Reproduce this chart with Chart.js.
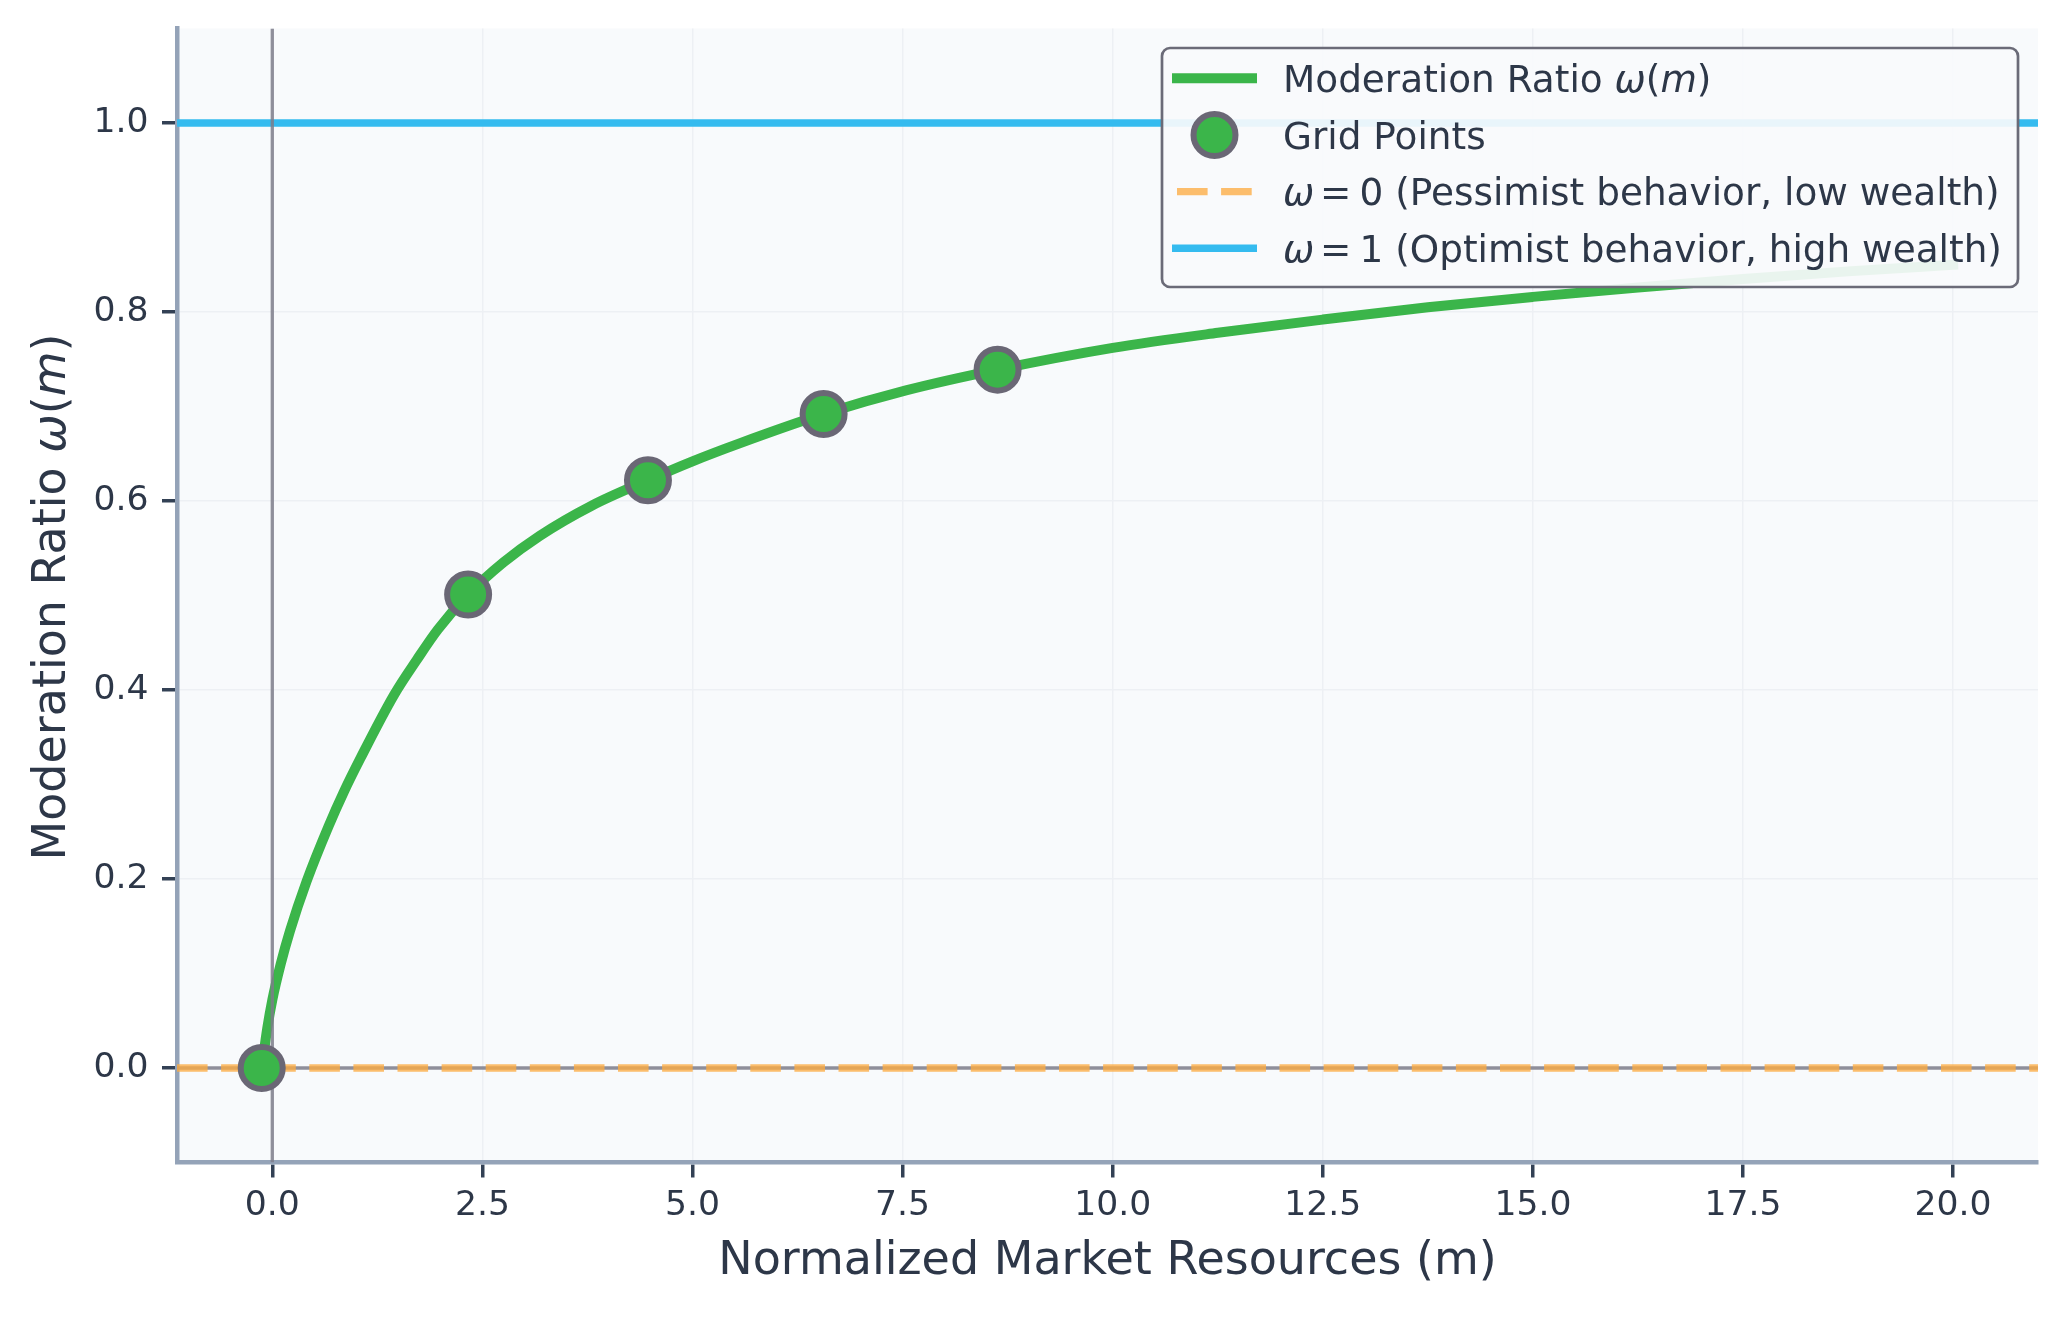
<!DOCTYPE html>
<html>
<head>
<meta charset="utf-8">
<script src="https://cdn.jsdelivr.net/npm/chart.js@4.4.1/dist/chart.umd.min.js"></script>
<style>
html,body{margin:0;padding:0;background:#ffffff;overflow:hidden}
canvas{display:block}
</style>
</head>
<body>
<canvas id="c" width="2068" height="1320"></canvas>
<script>
// ---- data ----
const curveM = [-0.126, -0.06, 0.0, 0.10, 0.21, 0.41, 0.67, 0.85, 1.05, 1.45, 1.72, 1.97, 2.33, 2.75, 3.18, 3.8, 4.47, 5.0, 5.56, 6.56, 7.54, 8.63, 10.0, 11.25, 12.5, 13.75, 15.0, 16.25, 17.5, 18.75, 20.0];
const curveW = [0.000, 0.042, 0.072, 0.110, 0.145, 0.198, 0.256, 0.292, 0.328, 0.395, 0.432, 0.464, 0.501, 0.535, 0.563, 0.595, 0.622, 0.642, 0.661, 0.692, 0.717, 0.739, 0.762, 0.778, 0.792, 0.805, 0.816, 0.826, 0.835, 0.843, 0.850];
const gridM = [-0.126, 2.33, 4.47, 6.56, 8.63];
const gridW = [0.000, 0.501, 0.622, 0.692, 0.739];
const pessimistLevel = 0;
const optimistLevel = 1;
const xTicks = [0, 2.5, 5, 7.5, 10, 12.5, 15, 17.5, 20];
const yTicks = [0, 0.2, 0.4, 0.6, 0.8, 1.0];
const xLimits = [-1.134, 21.01];
const yLimits = [-0.1, 1.1];
const xTitle = 'Normalized Market Resources (m)';
const yTitlePieces = [['Moderation Ratio ', false], ['ω', true], ['(', false], ['m', true], [')', false]];
// legend label pieces: [text, italic, xOffsetEm (null = follow previous)]
const legendPieces = [
  [['Moderation Ratio ', false, null], ['ω', true, null], ['(', false, null], ['m', true, null], [')', false, null]],
  [['Grid Points', false, null]],
  [['ω', true, 0], ['=', false, 0.99], ['0 (Pessimist behavior, low wealth)', false, 2.045]],
  [['ω', true, 0], ['=', false, 0.99], ['1 (Optimist behavior, high wealth)', false, 2.045]]
];

const FONT = '"DejaVu Sans", "Liberation Sans", sans-serif';
const TEXT = '#2d3748';
const GREEN = '#3bb54a';
const BLUE = '#35bbef';
const ORANGE = 'rgba(252,172,66,0.78)';
const GRAYLINE = 'rgba(125,125,138,0.85)';
const EDGE = '#6a6775';

function fontStr(size, italic) {
  return (italic ? 'italic ' : '') + size + 'px ' + FONT;
}

function drawPieces(ctx, pieces, x, y, size, center) {
  const widths = pieces.map(p => { ctx.font = fontStr(size, p[1]); return ctx.measureText(p[0]).width; });
  let cx = x;
  if (center) {
    const tot = widths.reduce((a, b) => a + b, 0);
    cx = x - tot / 2;
  }
  const x0 = cx;
  pieces.forEach((p, i) => {
    if (p[2] !== null && p[2] !== undefined) cx = x0 + p[2] * size;
    ctx.font = fontStr(size, p[1]);
    ctx.fillText(p[0], cx, y);
    cx += widths[i];
  });
}

const bgPlugin = {
  id: 'plotBg',
  beforeDraw(chart) {
    const {ctx, chartArea: a} = chart;
    ctx.save();
    ctx.fillStyle = '#ffffff';
    ctx.fillRect(0, 0, chart.width, chart.height);
    ctx.fillStyle = '#f8fafc';
    ctx.fillRect(a.left, a.top, a.right - a.left, a.bottom - a.top);
    ctx.restore();
  }
};

const yTitlePlugin = {
  id: 'yTitle',
  afterDraw(chart) {
    const {ctx, chartArea: a} = chart;
    ctx.save();
    ctx.translate(65, (a.top + a.bottom) / 2 + 1.5);
    ctx.rotate(-Math.PI / 2);
    ctx.fillStyle = TEXT;
    ctx.textBaseline = 'alphabetic';
    ctx.textAlign = 'left';
    drawPieces(ctx, yTitlePieces.map(p => [p[0], p[1], null]), 0, 0, 46, true);
    ctx.restore();
  }
};

const legendPlugin = {
  id: 'customLegend',
  afterDraw(chart) {
    const {ctx, chartArea: a} = chart;
    const ds = chart.data.datasets;
    const bx = a.right - 876, by = a.top + 19.5, bw = 856, bh = 239;
    ctx.save();
    ctx.beginPath();
    ctx.roundRect(bx, by, bw, bh, 8);
    ctx.fillStyle = 'rgba(248,250,252,0.92)';
    ctx.fill();
    ctx.lineWidth = 2.7;
    ctx.strokeStyle = '#6b6b78';
    ctx.stroke();

    const rows = [by + 30.3, by + 87, by + 143.7, by + 200.3];
    const hx0 = bx + 10, hx1 = bx + 95, hcx = bx + 52.5;
    ctx.setLineDash([]);
    ctx.lineCap = 'butt';
    ctx.strokeStyle = ds[0].borderColor;
    ctx.lineWidth = ds[0].borderWidth;
    ctx.beginPath(); ctx.moveTo(hx0, rows[0]); ctx.lineTo(hx1, rows[0]); ctx.stroke();
    ctx.beginPath();
    ctx.arc(hcx, rows[1], ds[1].pointRadius, 0, Math.PI * 2);
    ctx.fillStyle = ds[1].pointBackgroundColor;
    ctx.fill();
    ctx.lineWidth = ds[1].pointBorderWidth;
    ctx.strokeStyle = ds[1].pointBorderColor;
    ctx.stroke();
    ctx.strokeStyle = ds[2].borderColor;
    ctx.lineWidth = ds[2].borderWidth;
    ctx.setLineDash(ds[2].borderDash);
    ctx.beginPath(); ctx.moveTo(hx0 + 5, rows[2]); ctx.lineTo(hx1, rows[2]); ctx.stroke();
    ctx.setLineDash([]);
    ctx.strokeStyle = ds[3].borderColor;
    ctx.lineWidth = ds[3].borderWidth;
    ctx.beginPath(); ctx.moveTo(hx0, rows[3]); ctx.lineTo(hx1, rows[3]); ctx.stroke();

    ctx.fillStyle = TEXT;
    ctx.textBaseline = 'alphabetic';
    ctx.textAlign = 'left';
    const fs = 37.4;
    legendPieces.forEach((pieces, i) => {
      drawPieces(ctx, pieces, bx + 121, rows[i] + 0.3645 * fs, fs, false);
    });
    ctx.restore();
  }
};

const pts = (xs, ys) => xs.map((x, i) => ({x: x, y: ys[i]}));

new Chart(document.getElementById('c'), {
  type: 'line',
  data: {
    datasets: [
      {
        label: 'Moderation Ratio ω(m)',
        data: pts(curveM, curveW),
        borderColor: GREEN,
        borderWidth: 10,
        pointRadius: 0,
        cubicInterpolationMode: 'monotone',
        borderCapStyle: 'square',
        fill: false,
        order: 4
      },
      {
        label: 'Grid Points',
        data: pts(gridM, gridW),
        showLine: false,
        pointRadius: 21,
        pointHoverRadius: 21,
        pointBackgroundColor: GREEN,
        pointBorderColor: EDGE,
        pointBorderWidth: 6,
        order: 1
      },
      {
        label: 'ω = 0 (Pessimist behavior, low wealth)',
        data: pts(xLimits, [pessimistLevel, pessimistLevel]),
        borderColor: ORANGE,
        borderWidth: 7.3,
        borderDash: [30.6, 13.5],
        borderCapStyle: 'butt',
        pointRadius: 0,
        order: 3
      },
      {
        label: 'ω = 1 (Optimist behavior, high wealth)',
        data: pts(xLimits, [optimistLevel, optimistLevel]),
        borderColor: BLUE,
        borderWidth: 7.5,
        borderCapStyle: 'butt',
        pointRadius: 0,
        order: 6
      },
      {
        label: 'zero line',
        data: pts(xLimits, [0, 0]),
        borderColor: GRAYLINE,
        borderWidth: 3.3,
        pointRadius: 0,
        order: 5
      },
      {
        label: 'm = 0 line',
        data: pts([0, 0], yLimits),
        borderColor: GRAYLINE,
        borderWidth: 3.3,
        pointRadius: 0,
        order: 2
      }
    ]
  },
  options: {
    responsive: false,
    devicePixelRatio: 1,
    animation: false,
    layout: {padding: {left: 0, top: 28.5, right: 30, bottom: 0}},
    plugins: {
      legend: {display: false},
      tooltip: {enabled: false}
    },
    events: [],
    scales: {
      x: {
        type: 'linear',
        min: xLimits[0],
        max: xLimits[1],
        afterBuildTicks: s => { s.ticks = xTicks.map(v => ({value: v})); },
        afterFit: s => { s.height = 157.5; s.paddingLeft = 0; s.paddingRight = 0; s.paddingTop = 0; s.paddingBottom = 0; },
        ticks: {
          autoSkip: false,
          maxRotation: 0,
          padding: 7.7,
          color: TEXT,
          font: {family: FONT, size: 34.6},
          callback: v => Number(v).toFixed(1)
        },
        grid: {color: '#edf0f4', lineWidth: 1.5, tickLength: 15, tickWidth: 3.5, tickColor: '#334155'},
        border: {display: true, color: '#94a3b8', width: 4.5},
        title: {display: true, text: xTitle, color: TEXT, font: {family: FONT, size: 46}, padding: {top: 0, bottom: 30}}
      },
      y: {
        type: 'linear',
        min: yLimits[0],
        max: yLimits[1],
        afterBuildTicks: s => { s.ticks = yTicks.map(v => ({value: v})); },
        afterFit: s => { s.width = 177; s.paddingLeft = 0; s.paddingRight = 0; s.paddingTop = 0; s.paddingBottom = 0; },
        ticks: {
          autoSkip: false,
          padding: 13.6,
          color: TEXT,
          font: {family: FONT, size: 34.6},
          callback: v => Number(v).toFixed(1)
        },
        grid: {color: '#edf0f4', lineWidth: 1.5, tickLength: 15, tickWidth: 3.5, tickColor: '#334155'},
        border: {display: true, color: '#94a3b8', width: 4.5},
        title: {display: false}
      }
    }
  },
  plugins: [bgPlugin, yTitlePlugin, legendPlugin]
});
</script>
</body>
</html>
